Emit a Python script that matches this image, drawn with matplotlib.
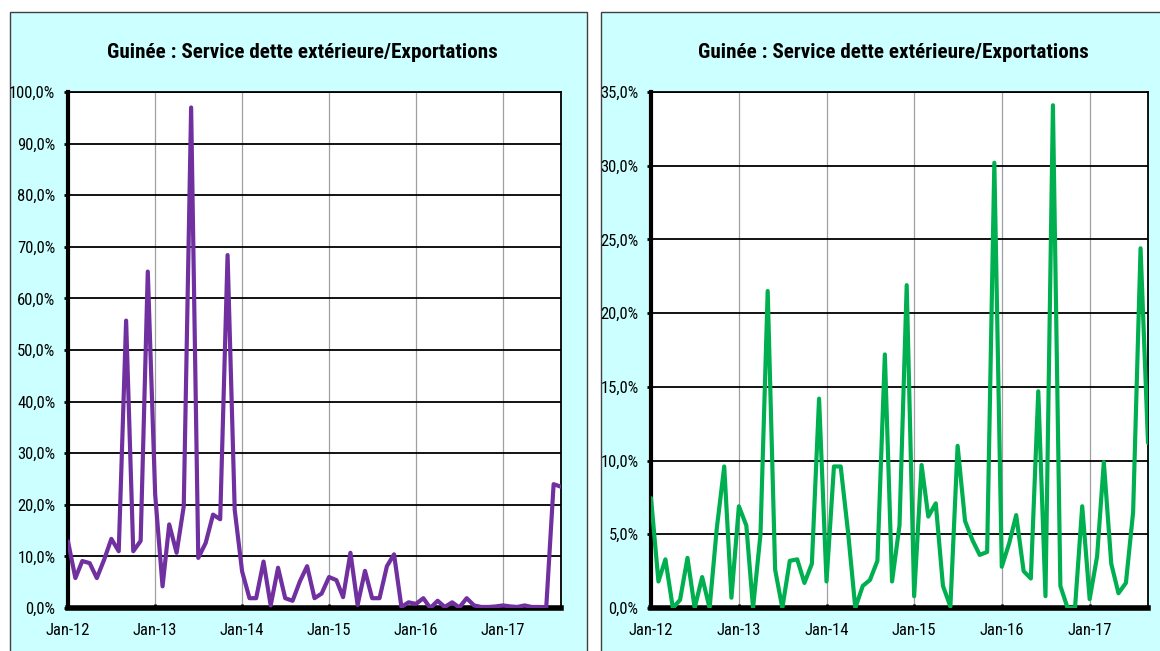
import numpy as np
import pandas as pd
import matplotlib
matplotlib.use("Agg")
import matplotlib.pyplot as plt
import matplotlib.dates as mdates
from matplotlib import font_manager
from matplotlib.patches import Rectangle
from matplotlib.ticker import FuncFormatter, MultipleLocator

months = pd.date_range("2012-01-01", periods=69, freq="MS")

# service de la dette / exportations (en %)
left_vals = [12.9, 5.8, 9.1, 8.7, 5.8, 9.4, 13.4, 11.0, 55.7, 11.0, 13.0, 65.2,
             22.0, 4.2, 16.2, 10.7, 19.7, 97.0, 9.7, 12.6, 18.1, 17.2, 68.4, 19.0,
             7.1, 1.9, 1.9, 9.0, 0.5, 7.8, 1.9, 1.4, 5.2, 8.1, 1.9, 2.8,
             6.0, 5.4, 2.1, 10.7, 0.6, 7.2, 1.9, 1.9, 8.1, 10.4, 0.2, 1.1,
             0.8, 1.9, 0.0, 1.4, 0.2, 1.1, 0.1, 1.9, 0.5, 0.2, 0.2, 0.3,
             0.5, 0.3, 0.2, 0.5, 0.2, 0.2, 0.1, 24.0, 23.5]
right_vals = [7.45, 1.8, 3.3, 0.0, 0.55, 3.4, 0.0, 2.1, 0.0, 5.4, 9.6, 0.7,
              6.9, 5.6, 0.0, 5.0, 21.5, 2.6, 0.0, 3.2, 3.3, 1.7, 3.0, 14.2,
              1.8, 9.6, 9.6, 5.1, 0.0, 1.5, 1.9, 3.2, 17.2, 1.8, 5.6, 21.9,
              0.8, 9.7, 6.2, 7.1, 1.5, 0.1, 11.0, 5.9, 4.6, 3.6, 3.8, 30.2,
              2.8, 4.4, 6.3, 2.5, 2.0, 14.7, 0.8, 34.1, 1.5, 0.0, 0.0, 6.9,
              0.6, 3.5, 9.9, 3.0, 1.0, 1.7, 6.5, 24.4, 11.2]

title = "Guinée : Service dette extérieure/Exportations"

# police étroite si disponible
installed = {f.name for f in font_manager.fontManager.ttflist}
narrow_font = None
for cand in ["Liberation Sans Narrow", "Arial Narrow", "Roboto Condensed",
             "DejaVu Sans Condensed", "Open Sans Condensed", "Noto Sans Condensed"]:
    if cand in installed:
        narrow_font = cand
        break
if narrow_font is None:
    narrow_font = "Liberation Sans"
narrow = [narrow_font, "DejaVu Sans"]
scale = 1.0 if ("Narrow" in narrow_font or "Condensed" in narrow_font) else 0.82

W, H = 1160, 651
fig = plt.figure(figsize=(W / 100, H / 100), dpi=100)
fig.patch.set_facecolor("white")

def pct(v, pos):
    return ("%.1f%%" % v).replace(".", ",")

def panel(px0, px1, ax_x0, ax_x1, vals, color, ymax, ystep, title_x):
    # fond cyan du cadre
    fig.add_artist(Rectangle((px0 / W, -0.05), (px1 - px0) / W, 1.05 - 12 / H,
                             transform=fig.transFigure, facecolor="#CCFFFF",
                             edgecolor="#404040", linewidth=1.0, zorder=-5))
    fig.text(title_x / W, 1 - 52 / H, title, ha="center", va="center",
             fontsize=15.2 * scale, fontweight="bold", family=narrow)
    ax = fig.add_axes([ax_x0 / W, 1 - 608 / H, (ax_x1 - ax_x0) / W, 516 / H])
    ax.set_zorder(2)
    ax.set_facecolor("white")
    ax.plot(months, vals, color=color, linewidth=3.0, solid_joinstyle="round",
            solid_capstyle="round", zorder=3, clip_on=True)
    ax.set_xlim(months[0], months[-1])
    ax.set_ylim(0, ymax)
    ax.yaxis.set_major_locator(MultipleLocator(ystep))
    ax.yaxis.set_major_formatter(FuncFormatter(pct))
    ax.xaxis.set_major_locator(mdates.YearLocator())
    ax.xaxis.set_major_formatter(mdates.DateFormatter("%b-%y"))
    ax.grid(axis="y", color="black", linewidth=1.3)
    ax.grid(axis="x", color="#a0a0a0", linewidth=0.9)
    ax.set_axisbelow(True)
    ax.spines["left"].set_linewidth(3)
    ax.spines["bottom"].set_linewidth(4)
    ax.spines["top"].set_linewidth(1.3)
    ax.spines["right"].set_linewidth(1.3)
    ax.tick_params(axis="y", direction="out", length=3, width=2, pad=6, labelsize=12 * scale)
    ax.tick_params(axis="x", direction="in", length=3, width=2, pad=11, labelsize=12 * scale)
    for lab in ax.get_xticklabels() + ax.get_yticklabels():
        lab.set_family(narrow)
    return ax

panel(10, 587, 68, 561, left_vals, "#7030A0", 100, 10, 302)
panel(601, 1170, 651, 1148, right_vals, "#00B050", 35, 5, 893)

fig.savefig("out.png", dpi=100)
